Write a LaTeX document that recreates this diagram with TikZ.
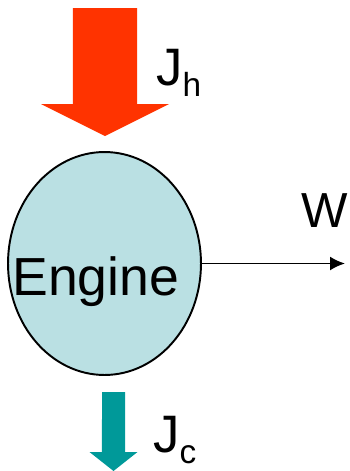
\documentclass[tikz,border=0pt]{standalone}
\usepackage{fontspec}
\setmainfont{Liberation Sans}
\usetikzlibrary{arrows.meta}
\usetikzlibrary{shapes.geometric}
\definecolor{hotred}{RGB}{255,51,0}
\definecolor{coldteal}{RGB}{0,153,153}
\definecolor{enginefill}{RGB}{186,224,227}
\newcommand{\flowsub}[1]{\raisebox{-6.5pt}{\fontsize{19}{19}\selectfont #1}}

\begin{document}
\begin{tikzpicture}[x=0.02cm,y=-0.02cm,
  flowlabel/.style={anchor=base west,inner sep=0pt,font=\fontsize{30}{36}\selectfont}]
\useasboundingbox (0,0) rectangle (350,471);

% heat coming in from the hot side
\coordinate (hin) at (105,8);
\fill[hotred] (hin) ++(-32,0) -- ++(64,0) -- ++(0,96) -- ++(32,0) -- ++(-64,32) -- ++(-64,-32) -- ++(32,0) -- cycle;
\node[flowlabel] (Jh) at (156,85) {J\flowsub{h}};

% the engine
\node[ellipse,draw=black,line width=1.1pt,fill=enginefill,minimum width=3.86cm,minimum height=4.46cm,inner sep=0pt] (engine) at (104.5,263.5) {};
\node[anchor=base west,inner sep=0pt,font=\fontsize{30.5}{37}\selectfont] (enginetext) at (12,295) {Engine};

% work out
\coordinate (wout) at (345,263.5);
\draw[line width=1.1pt,-{Latex[length=0.3cm,width=0.28cm]}] (engine.east) -- (wout);
\node[flowlabel,font=\fontsize{28}{34}\selectfont] (W) at (301,227) {W};

% heat going out to the cold side
\coordinate (cout) at (113.5,392);
\fill[coldteal] (cout) ++(-11.5,0) -- ++(23,0) -- ++(0,60) -- ++(12.5,0) -- ++(-24,19) -- ++(-24,-19) -- ++(12.5,0) -- cycle;
\node[flowlabel] (Jc) at (153,452) {J\flowsub{c}};

\end{tikzpicture}
\end{document}
